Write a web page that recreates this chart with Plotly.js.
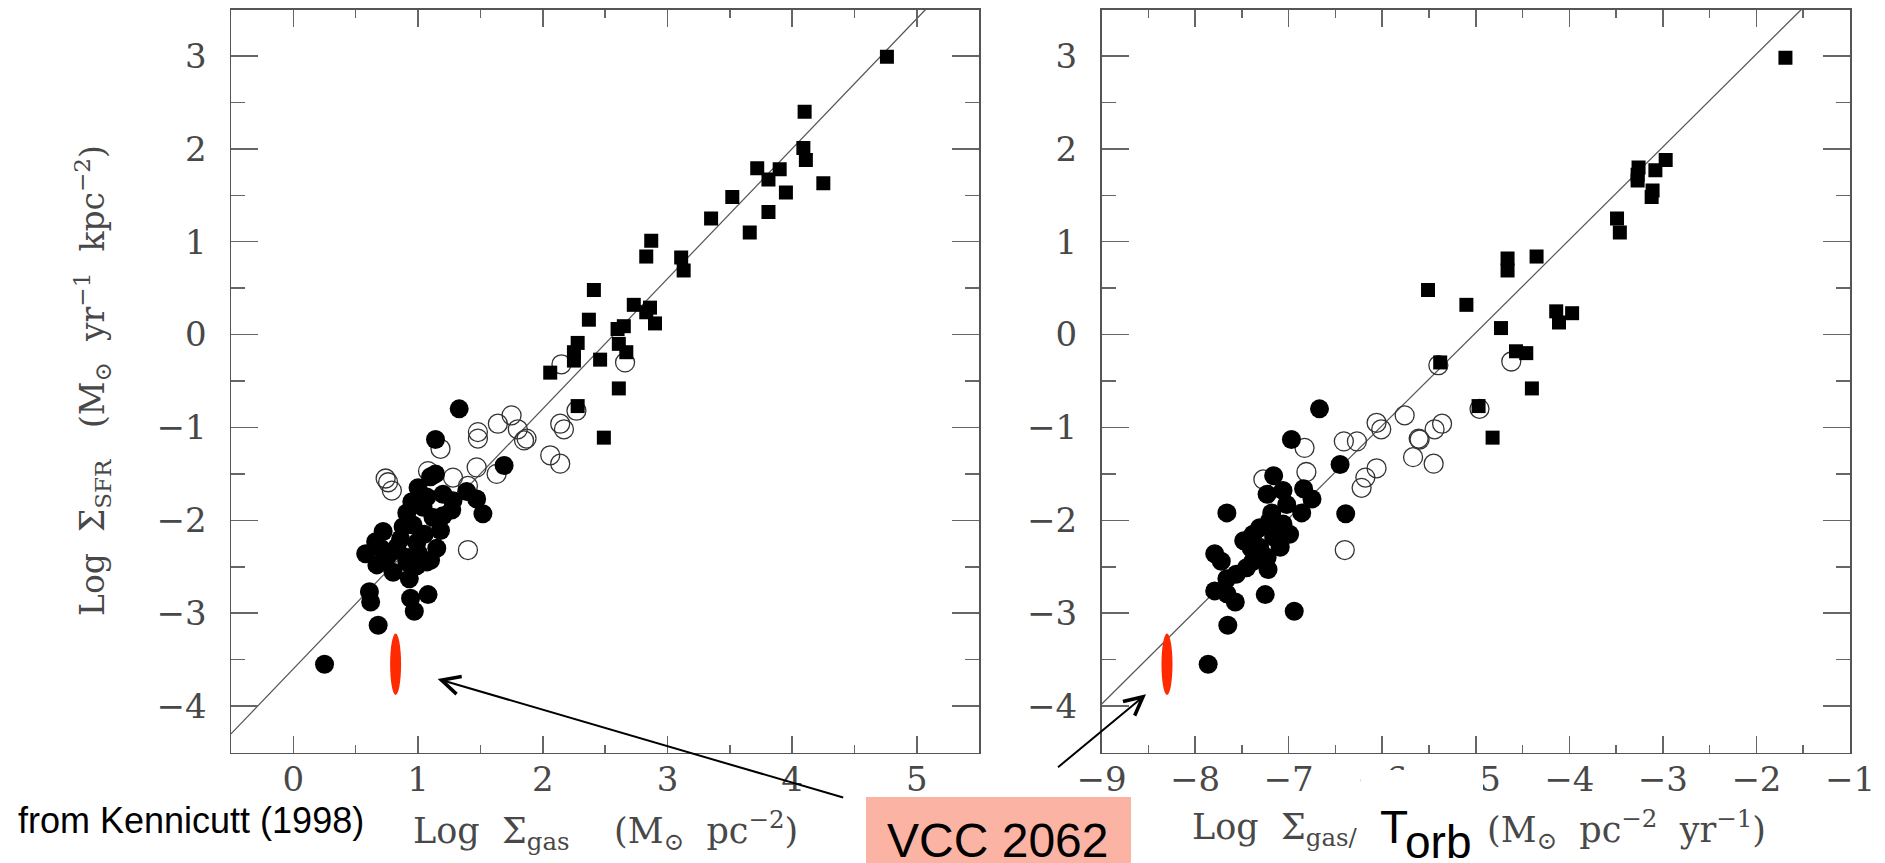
<!DOCTYPE html>
<html>
<head>
<meta charset="utf-8">
<script src="https://cdn.plot.ly/plotly-3.0.1.min.js"></script>
<style>
html, body { margin: 0; padding: 0; background: #ffffff; }
#chart { width: 1885px; height: 863px; }
</style>
</head>
<body>
<div id="chart"></div>
<script>
// ---- Left panel: log Σgas (Msun pc^-2) vs log ΣSFR (Msun yr^-1 kpc^-2) ----
// Normal spiral disks (filled circles)
const diskGas = [1.33, 1.14, 1.69, 1.10, 1.14, 1.00, 1.20, 1.39, 1.47, 1.52, 1.28, 1.07, 1.27, 0.91, 1.04, 1.12,
  1.18, 0.72, 0.88, 0.66, 0.58, 1.15, 0.80, 0.99, 0.83, 0.91, 0.67, 0.80, 1.07, 0.99, 0.93, 0.91, 0.75, 1.10,
  0.61, 0.62, 0.94, 1.08, 0.97, 0.68, 0.25, 0.96, 1.05, 0.70, 0.86, 1.00, 1.20, 0.95];
const diskSfr = [-0.80, -1.13, -1.41, -1.53, -1.50, -1.65, -1.72, -1.69, -1.77, -1.93, -1.79, -1.75, -1.89, -1.92, -1.86, -1.97,
  -2.11, -2.12, -2.07, -2.23, -2.36, -2.30, -2.33, -2.24, -2.29, -2.40, -2.48, -2.56, -2.45, -2.49, -2.63, -2.45, -2.40, -2.43,
  -2.77, -2.88, -2.84, -2.80, -2.98, -3.13, -3.55, -2.05, -2.15, -2.30, -2.20, -2.35, -1.95, -1.80];
// Circumnuclear regions of normal disks (open circles)
const centerGas = [0.74, 0.76, 0.79, 1.18, 1.48, 1.48, 1.64, 1.75, 1.80, 1.85, 1.87, 1.47, 1.28, 1.08, 1.63, 1.40,
  1.40, 2.06, 2.14, 2.14, 2.17, 2.15, 2.66, 2.27];
const centerSfr = [-1.55, -1.59, -1.68, -1.23, -1.05, -1.12, -0.96, -0.87, -1.02, -1.14, -1.12, -1.43, -1.54, -1.47, -1.50, -1.63,
  -2.32, -1.30, -1.39, -0.96, -1.02, -0.32, -0.30, -0.82];
// Circumnuclear starbursts (filled squares)
const burstGas = [4.76, 4.10, 4.09, 4.11, 3.72, 3.90, 3.81, 4.25, 3.95, 3.52, 3.81, 3.35, 3.66, 2.87, 2.83, 3.11, 3.13,
  2.41, 2.73, 2.86, 2.83, 2.90, 2.37, 2.60, 2.65, 2.61, 2.67, 2.28, 2.25, 2.25, 2.46, 2.06, 2.61, 2.28, 2.49];
const burstSfr = [2.99, 2.40, 2.01, 1.88, 1.79, 1.78, 1.67, 1.63, 1.53, 1.48, 1.32, 1.25, 1.10, 1.01, 0.84, 0.83, 0.69,
  0.48, 0.32, 0.29, 0.24, 0.12, 0.16, 0.06, 0.09, -0.10, -0.19, -0.09, -0.19, -0.28, -0.27, -0.41, -0.58, -0.77, -1.11];
// Schmidt law fit, end points across the panel
const schmidtGas = [-0.5, 5.07];
const schmidtSfr = [-4.3, 3.5];

// ---- Right panel: log Σgas/τorb (Msun pc^-2 yr^-1) vs log ΣSFR ----
const diskOrb = [-6.67, -6.97, -6.45, -7.66, -6.39, -7.86, -7.65, -6.94, -7.25, -7.79, -7.57, -7.66, -7.79, -7.66,
  -7.72, -7.56, -7.45, -7.22, -7.16, -7.23, -7.06, -6.84, -6.75, -6.86, -7.06, -7.31, -7.48, -7.09, -7.31, -7.23,
  -7.38, -7.02, -7.18, -7.38, -6.99, -7.16, -7.20, -7.30, -7.12, -7.40];
const diskOrbSfr = [-0.80, -1.13, -1.40, -1.92, -1.93, -3.55, -3.13, -2.98, -2.80, -2.76, -2.88, -2.79, -2.36, -2.63,
  -2.44, -2.58, -2.51, -2.53, -1.52, -1.72, -1.68, -1.66, -1.77, -1.92, -2.04, -2.08, -2.22, -2.29, -2.29, -2.40,
  -2.44, -1.83, -1.92, -2.15, -2.15, -2.18, -2.00, -2.35, -2.10, -2.30];
const centerOrb = [-7.27, -6.83, -6.81, -6.40, -6.41, -6.27, -6.06, -6.01, -5.76, -6.06, -6.18, -6.22, -5.61, -5.60,
  -5.67, -5.45, -5.44, -5.36, -5.40, -4.96, -4.62];
const centerOrbSfr = [-1.56, -1.22, -1.48, -2.32, -1.15, -1.15, -0.95, -1.02, -0.87, -1.44, -1.54, -1.65, -1.12, -1.13,
  -1.32, -1.39, -1.02, -0.96, -0.33, -0.80, -0.29];
const burstOrb = [-1.69, -2.97, -3.08, -3.26, -3.27, -3.27, -3.11, -3.12, -3.49, -3.46, -4.66, -4.66, -4.35, -5.51,
  -5.10, -4.73, -4.14, -3.97, -4.11, -4.57, -4.46, -5.38, -4.40, -4.97, -4.82];
const burstOrbSfr = [2.98, 1.88, 1.77, 1.80, 1.66, 1.72, 1.55, 1.48, 1.25, 1.10, 0.82, 0.69, 0.84, 0.48,
  0.32, 0.07, 0.25, 0.23, 0.13, -0.18, -0.20, -0.30, -0.58, -0.77, -1.11];
const orbLawX = [-9, -1.52];
const orbLawY = [-3.98, 3.5];

// VCC 2062 (tidal dwarf): position and SFR uncertainty
const vccGas = 0.82;
const vccOrb = -8.30;
const vccSfr = -3.55;
const vccSfrErr = 0.33;

// Axis ticks
const gasTicks = [0, 1, 2, 3, 4, 5];
const orbTicks = [-9, -8, -7, -6, -5, -4, -3, -2, -1];
const sfrTicks = [-4, -3, -2, -1, 0, 1, 2, 3];

// ---- drawing ----
const W = 1885, H = 863;
const fx = p => p / W;
const fy = p => 1 - p / H;

const serif = 'DejaVu Serif, serif';
const sans = 'Liberation Sans, Arial, sans-serif';
const labelGrey = '#484848';
const sp = n => '&nbsp;'.repeat(n);

function scatterSet(xs, ys, xa, ya) {
  return [
    { x: xs.law, y: ys.law, xaxis: xa, yaxis: ya, mode: 'lines', line: { color: '#555', width: 1.2 }, hoverinfo: 'skip' },
    { x: xs.center, y: ys.center, xaxis: xa, yaxis: ya, mode: 'markers',
      marker: { symbol: 'circle-open', size: 19, color: '#333', line: { width: 1.3, color: '#333' } } },
    { x: xs.disk, y: ys.disk, xaxis: xa, yaxis: ya, mode: 'markers',
      marker: { symbol: 'circle', size: 19, color: '#000', line: { width: 0 } } },
    { x: xs.burst, y: ys.burst, xaxis: xa, yaxis: ya, mode: 'markers',
      marker: { symbol: 'square', size: 14, color: '#000', line: { width: 0 } } }
  ];
}

const traces = [].concat(
  scatterSet({ law: schmidtGas, center: centerGas, disk: diskGas, burst: burstGas },
             { law: schmidtSfr, center: centerSfr, disk: diskSfr, burst: burstSfr }, 'x', 'y'),
  scatterSet({ law: orbLawX, center: centerOrb, disk: diskOrb, burst: burstOrb },
             { law: orbLawY, center: centerOrbSfr, disk: diskOrbSfr, burst: burstOrbSfr }, 'x2', 'y2')
);

const axisBase = {
  showline: true, linecolor: '#555', linewidth: 1.5, mirror: 'allticks',
  ticks: 'inside', tickcolor: '#666', tickwidth: 1.5,
  showgrid: false, zeroline: false, fixedrange: true,
  tickfont: { family: serif, size: 34, color: labelGrey }
};
const xBase = Object.assign({}, axisBase, {
  ticklen: 17, ticklabelstandoff: -4,
  minor: { dtick: 0.5, ticklen: 8, tickcolor: '#666', tickwidth: 1.5, ticks: 'inside' }
});
const yBase = Object.assign({}, axisBase, {
  ticklen: 27, ticklabelstandoff: 16, range: [-4.5, 3.5], tickvals: sfrTicks,
  domain: [fy(752.5), fy(9.5)],
  minor: { dtick: 0.5, ticklen: 14, tickcolor: '#666', tickwidth: 1.5, ticks: 'inside' }
});

const vccHalfGas = 0.044, vccHalfOrb = 0.059;

const layout = {
  width: W, height: H,
  margin: { l: 0, r: 0, t: 0, b: 0 },
  paper_bgcolor: '#fff', plot_bgcolor: '#fff',
  showlegend: false,
  xaxis: Object.assign({}, xBase, { domain: [fx(231), fx(979.2)], range: [-0.5, 5.5], tickvals: gasTicks, anchor: 'y' }),
  yaxis: Object.assign({}, yBase, { anchor: 'x' }),
  xaxis2: Object.assign({}, xBase, { domain: [fx(1101.5), fx(1850)], range: [-9, -1], tickvals: orbTicks, anchor: 'y2' }),
  yaxis2: Object.assign({}, yBase, { anchor: 'x2' }),
  shapes: [
    { type: 'circle', xref: 'x', yref: 'y', layer: 'above',
      x0: vccGas - vccHalfGas, x1: vccGas + vccHalfGas, y0: vccSfr - vccSfrErr, y1: vccSfr + vccSfrErr,
      fillcolor: '#ff2a00', line: { width: 0 } },
    { type: 'circle', xref: 'x2', yref: 'y2', layer: 'above',
      x0: vccOrb - vccHalfOrb, x1: vccOrb + vccHalfOrb, y0: vccSfr - vccSfrErr, y1: vccSfr + vccSfrErr,
      fillcolor: '#ff2a00', line: { width: 0 } },
    // white backing behind the orbital-time symbol
    { type: 'rect', xref: 'paper', yref: 'paper', layer: 'above',
      x0: fx(1361), x1: fx(1483), y0: fy(863), y1: fy(770), fillcolor: '#fff', line: { width: 0 } },
    // label box for VCC 2062
    { type: 'rect', xref: 'paper', yref: 'paper', layer: 'above',
      x0: fx(866), x1: fx(1131), y0: fy(863), y1: fy(797), fillcolor: '#fbb4a4', line: { width: 0 } }
  ],
  annotations: [
    { xref: 'paper', yref: 'paper', x: fx(605), y: fy(830), xanchor: 'center', yanchor: 'middle', showarrow: false,
      text: 'Log' + sp(2) + 'Σ<sub>gas</sub>' + sp(4) + '(M<sub>⊙</sub>' + sp(2) + 'pc<sup>−2</sup>)',
      font: { family: serif, size: 35, color: labelGrey } },
    { xref: 'paper', yref: 'paper', x: fx(92), y: fy(381), xanchor: 'center', yanchor: 'middle', showarrow: false,
      textangle: -90,
      text: 'Log' + sp(2) + 'Σ<sub>SFR</sub>' + sp(3) + '(M<sub>⊙</sub>' + sp(2) + 'yr<sup>−1</sup>' + sp(2) + 'kpc<sup>−2</sup>)',
      font: { family: serif, size: 33, color: labelGrey } },
    { xref: 'paper', yref: 'paper', x: fx(1360), y: fy(829), xanchor: 'right', yanchor: 'middle', showarrow: false,
      text: 'Log' + sp(2) + 'Σ<sub>gas/</sub>',
      font: { family: serif, size: 35, color: labelGrey } },
    { xref: 'paper', yref: 'paper', x: fx(1485), y: fy(829), xanchor: 'left', yanchor: 'middle', showarrow: false,
      text: '(M<sub>⊙</sub>' + sp(2) + 'pc<sup>−2</sup>' + sp(2) + 'yr<sup>−1</sup>)',
      font: { family: serif, size: 35, color: labelGrey } },
    { xref: 'paper', yref: 'paper', x: fx(1378), y: fy(827), xanchor: 'left', yanchor: 'middle', showarrow: false,
      text: 'T', font: { family: sans, size: 46, color: '#000' } },
    { xref: 'paper', yref: 'paper', x: fx(1403), y: fy(842), xanchor: 'left', yanchor: 'middle', showarrow: false,
      text: 'orb', font: { family: sans, size: 46, color: '#000' } },
    { xref: 'paper', yref: 'paper', x: fx(16), y: fy(820), xanchor: 'left', yanchor: 'middle', showarrow: false,
      text: 'from Kennicutt (1998)', font: { family: sans, size: 36, color: '#000' } },
    { xref: 'paper', yref: 'paper', x: fx(997), y: fy(840), xanchor: 'center', yanchor: 'middle', showarrow: false,
      text: 'VCC 2062', font: { family: sans, size: 48, color: '#000' } },
    // arrows pointing at VCC 2062 in each panel
    { xref: 'paper', yref: 'paper', x: fx(437.7), y: fy(679), ax: 407, ay: 119, text: '',
      showarrow: true, arrowhead: 5, arrowsize: 1.8, arrowwidth: 2, arrowcolor: '#000', standoff: 0 },
    { xref: 'paper', yref: 'paper', x: fx(1146), y: fy(694.3), ax: -89.5, ay: 74.2, text: '',
      showarrow: true, arrowhead: 5, arrowsize: 1.8, arrowwidth: 2, arrowcolor: '#000', standoff: 0 }
  ]
};

Plotly.newPlot('chart', traces, layout, { staticPlot: true, displayModeBar: false });
</script>
</body>
</html>
